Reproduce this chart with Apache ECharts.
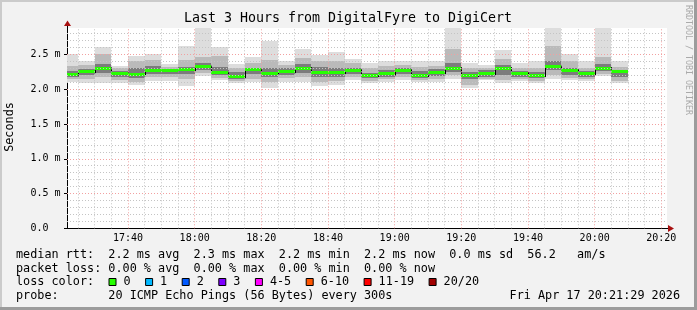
<!DOCTYPE html>
<html><head><meta charset="utf-8">
<script src="https://cdn.jsdelivr.net/npm/echarts@6/dist/echarts.min.js"></script>
<style>html,body{margin:0;padding:0;background:#f2f2f2}#c{width:697px;height:310px}</style>
</head><body><div id="c"></div>
<script>
// ---- data (5-minute steps, end time of each step) ----
const blockEnds = ['17:25','17:30','17:35','17:40','17:45','17:50','17:55','18:00','18:05','18:10',
  '18:15','18:20','18:25','18:30','18:35','18:40','18:45','18:50','18:55','19:00',
  '19:05','19:10','19:15','19:20','19:25','19:30','19:35','19:40','19:45','19:50',
  '19:55','20:00','20:05','20:10'];
// values in milliseconds
const medianRtt = [2.206,2.253,2.292,2.220,2.210,2.268,2.268,2.282,2.325,2.245,
  2.181,2.278,2.224,2.253,2.296,2.239,2.239,2.268,2.196,2.220,
  2.268,2.196,2.239,2.296,2.196,2.224,2.296,2.224,2.196,2.325,
  2.268,2.224,2.296,2.253];
const pingMax = [2.50,2.41,2.60,2.34,2.48,2.50,2.36,2.62,2.95,2.60,
  2.36,2.47,2.70,2.41,2.58,2.49,2.53,2.43,2.38,2.41,
  2.40,2.41,2.41,2.95,2.37,2.35,2.57,2.38,2.41,2.95,
  2.50,2.41,2.95,2.40];
const pingP90 = [2.33,2.35,2.50,2.30,2.40,2.42,2.32,2.42,2.47,2.48,
  2.30,2.38,2.42,2.35,2.45,2.40,2.40,2.37,2.30,2.33,
  2.35,2.32,2.34,2.58,2.31,2.31,2.44,2.30,2.31,2.62,
  2.40,2.31,2.47,2.32];
const pingP75 = [2.26,2.29,2.36,2.26,2.31,2.33,2.29,2.32,2.38,2.32,
  2.25,2.31,2.30,2.30,2.36,2.32,2.30,2.31,2.24,2.27,
  2.31,2.26,2.29,2.38,2.25,2.27,2.35,2.26,2.25,2.40,
  2.31,2.26,2.36,2.28];
const pingP25 = [2.17,2.20,2.24,2.17,2.16,2.22,2.22,2.22,2.28,2.20,
  2.15,2.22,2.17,2.21,2.24,2.18,2.18,2.22,2.16,2.18,
  2.22,2.16,2.19,2.25,2.14,2.18,2.20,2.18,2.16,2.27,
  2.21,2.17,2.26,2.17];
const pingP10 = [2.14,2.14,2.17,2.13,2.11,2.17,2.17,2.14,2.24,2.16,
  2.12,2.15,2.10,2.16,2.17,2.11,2.12,2.17,2.12,2.14,
  2.17,2.13,2.14,2.20,2.06,2.15,2.13,2.15,2.12,2.20,
  2.16,2.14,2.22,2.12];
const pingMin = [2.11,2.095,2.095,2.095,2.06,2.12,2.12,2.05,2.19,2.13,
  2.095,2.11,2.02,2.11,2.11,2.05,2.06,2.13,2.095,2.11,
  2.13,2.11,2.11,2.14,2.02,2.13,2.095,2.12,2.095,2.14,
  2.13,2.12,2.19,2.09];
const xTickLabels = ['17:40','18:00','18:20','18:40','19:00','19:20','19:40','20:00','20:20'];
const yTickValues = [0,0.5,1.0,1.5,2.0,2.5];
const yTickLabels = ['0.0','0.5 m','1.0 m','1.5 m','2.0 m','2.5 m'];
const lossLabels = ['0','1','2','3','4-5','6-10','11-19','20/20'];
const lossColors = ['#26ff00','#00b8ff','#0059ff','#7e00ff','#ff00ff','#ff5500','#ff0000','#a10000'];
const titleText = 'Last 3 Hours from DigitalFyre to DigiCert';
const legendRows = [
  'median rtt:  2.2 ms avg  2.3 ms max  2.2 ms min  2.2 ms now  0.0 ms sd  56.2   am/s',
  'packet loss: 0.00 % avg  0.00 % max  0.00 % min  0.00 % now',
  'loss color:',
  'probe:       20 ICMP Echo Pings (56 Bytes) every 300s'
];
const stampText = 'Fri Apr 17 20:21:29 2026';

// ---- helpers ----
const toMin = s => { const p = s.split(':').map(Number); return p[0]*60 + p[1]; };
const X_MIN = 17*60 + 21.7, X_MAX = X_MIN + 180;
const MONO = 'DejaVu Sans Mono';
const LF = 11.8;

const vMinor = [], vMajor = [];
for (let t = 1045; t <= X_MAX; t += 5) (t % 20 === 0 ? vMajor : vMinor).push(t);
const hMinor = [], hMajor = [];
for (let k = 1; k <= 28; k++) (k % 5 === 0 ? hMajor : hMinor).push(k / 10);
const minorStyle = {color: '#c4c4c4', width: 1, type: [1, 2], opacity: 1};
const majorStyle = {color: '#f2a0a0', width: 1, type: [1, 2], opacity: 1};
const gridMarks = [].concat(
  vMinor.map(v => ({xAxis: v, lineStyle: minorStyle})),
  hMinor.map(v => ({yAxis: v, lineStyle: minorStyle})),
  vMajor.map(v => ({xAxis: v, lineStyle: majorStyle})),
  hMajor.map(v => ({yAxis: v, lineStyle: majorStyle}))
);

const smokeData = blockEnds.map((t, i) => [toMin(t), medianRtt[i], i]);

function renderSmoke(params, api) {
  const i = api.value(2);
  const t1 = api.value(0), t0 = t1 - 5;
  const cs = params.coordSys;
  const L = cs.x, R = cs.x + cs.width, T = cs.y, B = cs.y + cs.height;
  const xa = Math.round(Math.max(api.coord([t0, 0])[0], L));
  const xb = Math.round(Math.min(api.coord([t1, 0])[0], R));
  const band = (lo, hi, fill) => {
    const y0 = Math.round(Math.max(api.coord([t1, hi])[1], T));
    const y1 = Math.round(Math.min(api.coord([t1, lo])[1], B));
    return {type: 'rect', shape: {x: xa, y: y0, width: xb - xa, height: y1 - y0}, style: {fill: fill}};
  };
  const children = [
    band(pingMin[i], pingMax[i], '#dddddd'),
    band(pingP10[i], pingP90[i], '#bababa'),
    band(pingP25[i], pingP75[i], '#7c7c7c')
  ];
  const ym = api.coord([t1, medianRtt[i]])[1];
  if (i > 0 && api.coord([t0, 0])[0] >= L) {
    const yp = api.coord([t0, medianRtt[i - 1]])[1];
    children.push({type: 'line', shape: {x1: xa + 0.5, y1: Math.min(yp, ym) - 1.5, x2: xa + 0.5, y2: Math.max(yp, ym) + 1.5},
      style: {stroke: '#000', lineWidth: 1}});
  }
  children.push({type: 'rect', shape: {x: xa, y: Math.round(ym - 1.5), width: xb - xa, height: 3}, style: {fill: lossColors[0]}});
  return {type: 'group', children: children};
}

// legend graphics
const graphics = [];
graphics.push({type: 'rect', shape: {x: 0, y: 0, width: 697, height: 2}, style: {fill: '#cbcbcb'}, silent: true});
graphics.push({type: 'rect', shape: {x: 0, y: 0, width: 2, height: 310}, style: {fill: '#cbcbcb'}, silent: true});
graphics.push({type: 'rect', shape: {x: 694, y: 0, width: 3, height: 310}, style: {fill: '#9c9c9c'}, silent: true});
graphics.push({type: 'rect', shape: {x: 0, y: 307, width: 697, height: 3}, style: {fill: '#9c9c9c'}, silent: true});
graphics.push({type: 'text', style: {text: titleText, x: 348, y: 19, align: 'center', verticalAlign: 'middle',
  font: '13.3px "' + MONO + '"', fill: '#000'}, silent: true});
graphics.push({type: 'text', rotation: Math.PI / 2, x: 10, y: 127, style: {text: 'Seconds', x: 0, y: 0, align: 'center', verticalAlign: 'middle',
  font: LF + 'px "' + MONO + '"', fill: '#000'}, silent: true});
graphics.push({type: 'text', rotation: -Math.PI / 2, x: 688, y: 60, style: {text: 'RRDTOOL / TOBI OETIKER', x: 0, y: 0, align: 'center', verticalAlign: 'middle',
  font: '8.3px "' + MONO + '"', fill: '#aaaaaa'}, silent: true});
graphics.push({type: 'line', shape: {x1: 67.5, y1: 28, x2: 67.5, y2: 24}, style: {stroke: '#000', lineWidth: 1}, silent: true});
graphics.push({type: 'line', shape: {x1: 666, y1: 228.5, x2: 669, y2: 228.5}, style: {stroke: '#000', lineWidth: 1}, silent: true});
graphics.push({type: 'polygon', shape: {points: [[64, 26], [67.5, 20.5], [71, 26]]}, style: {fill: '#a81010'}, silent: true});
graphics.push({type: 'polygon', shape: {points: [[668, 225], [674, 228.5], [668, 232]]}, style: {fill: '#a81010'}, silent: true});
const rowY = [255, 268.5, 282, 295.5];
legendRows.forEach((t, r) => graphics.push({type: 'text', style: {text: t, x: 16, y: rowY[r], align: 'left', verticalAlign: 'middle',
  font: LF + 'px "' + MONO + '"', fill: '#000'}, silent: true}));
graphics.push({type: 'text', style: {text: stampText, x: 680, y: rowY[3], align: 'right', verticalAlign: 'middle',
  font: LF + 'px "' + MONO + '"', fill: '#000'}, silent: true});
let bx = 108.5;
lossLabels.forEach((lab, k) => {
  graphics.push({type: 'rect', shape: {x: bx + 0.5, y: 278.5, width: 7, height: 7}, style: {fill: lossColors[k], stroke: '#000', lineWidth: 1}, silent: true});
  graphics.push({type: 'text', style: {text: lab, x: bx + 15, y: rowY[2], align: 'left', verticalAlign: 'middle',
    font: LF + 'px "' + MONO + '"', fill: '#000'}, silent: true});
  bx = bx + 15 + lab.length * 7.1 + 14.5;
});

const chart = echarts.init(document.getElementById('c'), null, {renderer: 'canvas', width: 697, height: 310});
chart.setOption({
  animation: false,
  backgroundColor: '#f2f2f2',
  grid: {left: 67, top: 28, width: 600, height: 200.3, show: true, backgroundColor: '#ffffff', borderWidth: 0,
    containLabel: false, outerBoundsMode: 'none'},
  xAxis: {
    type: 'value', min: X_MIN, max: X_MAX,
    axisLine: {show: true, onZero: false, lineStyle: {color: '#000', width: 1}},
    axisTick: {show: false},
    splitLine: {show: false},
    axisLabel: {
      customValues: xTickLabels.map(toMin),
      formatter: v => { const k = xTickLabels.map(toMin).indexOf(Math.round(v)); return k >= 0 ? xTickLabels[k] : ''; },
      fontFamily: MONO, fontSize: 10, color: '#000', margin: 5
    }
  },
  yAxis: {
    type: 'value', min: 0, max: 2.88, interval: 0.5,
    axisLine: {show: true, lineStyle: {color: '#000', width: 1}},
    axisTick: {show: true, customValues: yTickValues, length: 3, lineStyle: {color: '#000'}},
    splitLine: {show: false},
    axisLabel: {
      customValues: yTickValues,
      formatter: v => { const k = yTickValues.findIndex(u => Math.abs(u - v) < 1e-6); return k >= 0 ? yTickLabels[k] : ''; },
      fontFamily: MONO, fontSize: 10, color: '#000', align: 'left', margin: 36.5
    }
  },
  series: [
    {type: 'custom', name: 'smoke', renderItem: renderSmoke, data: smokeData, encode: {x: 0, y: 1}, z: 2, silent: true},
    {type: 'line', name: 'grid', data: [], z: 3, silent: true,
      markLine: {silent: true, symbol: ['none', 'none'], label: {show: false}, animation: false, data: gridMarks}}
  ],
  graphic: graphics
});
</script></body></html>
